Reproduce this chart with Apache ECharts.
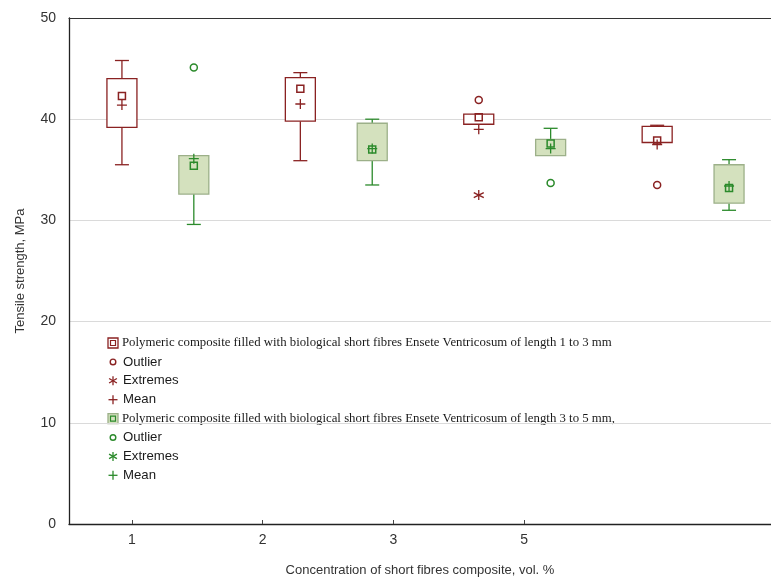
<!DOCTYPE html>
<html><head><meta charset="utf-8">
<script src="https://cdn.jsdelivr.net/npm/echarts@6/dist/echarts.min.js"></script>
<style>html,body{margin:0;padding:0;background:#fff}#chart{width:771px;height:580px}</style>
</head><body><div id="chart"></div>
<script>
// ---- data ----
const categories = ['1', '2', '3', '5'];
const yTicks = [0, 10, 20, 30, 40, 50];

// composite with fibres 1 to 3 mm
const shortLow    = [35.5, 35.9, 39.5, 37.7];
const shortQ1     = [39.2, 39.8, 39.5, 37.7];
const shortMedian = [42.3, 43.0, 40.2, 37.9];
const shortQ3     = [44.0, 44.1, 40.5, 39.3];
const shortHigh   = [45.8, 44.6, 40.5, 39.4];
const shortMean   = [41.4, 41.5, 39.0, 37.5];
const shortOutliers = [[2, 41.9], [3, 33.5]];   // [category index, value]
const shortExtremes = [[2, 32.5]];

// composite with fibres 3 to 5 mm
const longLow    = [29.6, 33.5, 36.4, 31.0];
const longQ1     = [32.6, 35.9, 36.4, 31.7];
const longMedian = [35.4, 37.0, 37.6, 33.2];
const longQ3     = [36.4, 39.6, 38.0, 35.5];
const longHigh   = [36.4, 40.0, 39.1, 36.0];
const longMean   = [36.1, 37.1, 37.1, 33.4];
const longOutliers = [[0, 45.1], [2, 33.7]];
const longExtremes = [];

const legendLabels = [
  'Polymeric composite filled with biological short fibres Ensete Ventricosum of length 1 to 3 mm',
  'Outlier', 'Extremes', 'Mean',
  'Polymeric composite filled with biological short fibres Ensete Ventricosum of length 3 to 5 mm,',
  'Outlier', 'Extremes', 'Mean'
];

// ---- layout constants (positions of box groups along the x scale) ----
const groupStart = 0.923, groupStep = 1.365, pairOffset = 0.55;
const xMin = 0.518, xMax = 5.889;
const RED = '#8a2222', GREEN = '#2b8a2b', GREEN_FILL = '#d4e1be', GREEN_BORDER = '#9cb089';

function xPos(i, s) { return groupStart + i * groupStep + s * pairOffset; }

function boxData(s, lo, q1, q3, hi) {
  return lo.map((v, i) => [xPos(i, s), lo[i], q1[i], q3[i], hi[i]]);
}
function pointData(s, arr) { return arr.map((v, i) => [xPos(i, s), v]); }
function idxData(s, arr) { return arr.map(p => [xPos(p[0], s), p[1]]); }

function boxRenderer(lineColor, fill, border) {
  return function (params, api) {
    const x = api.value(0);
    const lo = api.value(1), q1 = api.value(2), q3 = api.value(3), hi = api.value(4);
    const pLo = api.coord([x, lo]), pQ1 = api.coord([x, q1]), pQ3 = api.coord([x, q3]), pHi = api.coord([x, hi]);
    const cx = pLo[0], bw = 30, cw = 14;
    const ls = { stroke: lineColor, lineWidth: 1.3 };
    const ch = [];
    if (hi - q3 > 0.05) {
      ch.push({ type: 'line', shape: { x1: cx, y1: pHi[1], x2: cx, y2: pQ3[1] }, style: ls });
      ch.push({ type: 'line', shape: { x1: cx - cw / 2, y1: pHi[1], x2: cx + cw / 2, y2: pHi[1] }, style: ls });
    }
    if (q1 - lo > 0.05) {
      ch.push({ type: 'line', shape: { x1: cx, y1: pQ1[1], x2: cx, y2: pLo[1] }, style: ls });
      ch.push({ type: 'line', shape: { x1: cx - cw / 2, y1: pLo[1], x2: cx + cw / 2, y2: pLo[1] }, style: ls });
    }
    ch.push({ type: 'rect', shape: { x: cx - bw / 2, y: pQ3[1], width: bw, height: pQ1[1] - pQ3[1] },
      style: { fill: fill, stroke: border, lineWidth: 1.3 } });
    return { type: 'group', children: ch };
  };
}

const PLUS = 'path://M5,0L5,10M0,5L10,5';
const STAR = 'path://M5,0L5,10M0.7,2.5L9.3,7.5M9.3,2.5L0.7,7.5';

function markerSeries(data, symbol, size, color, bw) {
  return {
    type: 'scatter', data: data, symbol: symbol, symbolSize: size, z: 5,
    itemStyle: { color: 'rgba(0,0,0,0)', borderColor: color, borderWidth: bw, opacity: 1 },
    emphasis: { disabled: true }, silent: true
  };
}

// ---- legend (graphic) ----
const legendX = 113, legendTextX = 122, legendY0 = 343, legendDY = 18.9;
const graphics = [];
legendLabels.forEach((label, k) => {
  const y = legendY0 + k * legendDY;
  const grp = k < 4 ? 0 : 1;
  const col = grp === 0 ? RED : GREEN;
  const kind = k % 4;
  if (kind === 0) {
    graphics.push({ type: 'rect', shape: { x: legendX - 5, y: y - 5, width: 10, height: 10 },
      style: { fill: grp === 0 ? '#fff' : GREEN_FILL, stroke: grp === 0 ? RED : GREEN_BORDER, lineWidth: 1.3 } });
    graphics.push({ type: 'rect', shape: { x: legendX - 2.5, y: y - 2.5, width: 5, height: 5 },
      style: { fill: 'none', stroke: col, lineWidth: 1.2 } });
  } else if (kind === 1) {
    graphics.push({ type: 'circle', shape: { cx: legendX, cy: y, r: 2.8 }, style: { fill: 'none', stroke: col, lineWidth: 1.4 } });
  } else if (kind === 2) {
    const r = 4.5;
    [[0, -r, 0, r], [-r * 0.87, -r * 0.5, r * 0.87, r * 0.5], [r * 0.87, -r * 0.5, -r * 0.87, r * 0.5]].forEach(l => {
      graphics.push({ type: 'line', shape: { x1: legendX + l[0], y1: y + l[1], x2: legendX + l[2], y2: y + l[3] }, style: { stroke: col, lineWidth: 1.3 } });
    });
  } else {
    graphics.push({ type: 'line', shape: { x1: legendX - 4.5, y1: y, x2: legendX + 4.5, y2: y }, style: { stroke: col, lineWidth: 1.3 } });
    graphics.push({ type: 'line', shape: { x1: legendX, y1: y - 4.5, x2: legendX, y2: y + 4.5 }, style: { stroke: col, lineWidth: 1.3 } });
  }
  graphics.push({ type: 'text', x: kind === 0 ? legendTextX : legendTextX + 1, y: y,
    style: { text: label, fill: '#1a1a1a', verticalAlign: 'middle', align: 'left',
      fontFamily: kind === 0 ? '"Liberation Serif", serif' : '"Liberation Sans", Arial, sans-serif',
      fontSize: kind === 0 ? 12.8 : 13.2 } });
});

const chart = echarts.init(document.getElementById('chart'), null, { renderer: 'canvas' });
chart.setOption({
  animation: false,
  backgroundColor: '#fff',
  grid: { left: 69, top: 18, right: 0, bottom: 56, containLabel: false, outerBoundsMode: 'none' },
  xAxis: [{
    type: 'value', min: xMin, max: xMax, position: 'bottom',
    name: 'Concentration of short fibres composite, vol. %', nameLocation: 'middle', nameGap: 40,
    nameTextStyle: { fontFamily: '"Liberation Sans", Arial, sans-serif', fontSize: 13, color: '#333' },
    axisLine: { show: true, onZero: false, lineStyle: { color: '#222', width: 1.3 } },
    axisTick: { show: true, inside: true, length: 4, customValues: [1, 2, 3, 4], lineStyle: { color: '#444' } },
    axisLabel: { customValues: [1, 2, 3, 4], formatter: v => categories[Math.round(v) - 1] || '',
      fontFamily: '"Liberation Sans", Arial, sans-serif', fontSize: 14, color: '#333', margin: 9 },
    splitLine: { show: false }
  }, {
    type: 'value', min: xMin, max: xMax, position: 'top',
    axisLine: { show: true, onZero: false, lineStyle: { color: '#333', width: 1.2 } },
    axisTick: { show: false }, axisLabel: { show: false }, splitLine: { show: false }
  }],
  yAxis: {
    type: 'value', min: 0, max: 50, interval: 10,
    name: 'Tensile strength, MPa', nameLocation: 'middle', nameGap: 42, nameRotate: 90,
    nameTextStyle: { fontFamily: '"Liberation Sans", Arial, sans-serif', fontSize: 13, color: '#333' },
    axisLine: { show: true, onZero: false, lineStyle: { color: '#222', width: 1.3 } },
    axisTick: { show: false },
    axisLabel: { fontFamily: '"Liberation Sans", Arial, sans-serif', fontSize: 14, color: '#333', margin: 13,
      formatter: v => yTicks.indexOf(v) >= 0 ? String(v) : '' },
    splitLine: { show: true, lineStyle: { color: '#dadada', width: 1.2 } }
  },
  graphic: graphics,
  series: [
    { type: 'custom', data: boxData(0, shortLow, shortQ1, shortQ3, shortHigh), encode: { x: 0, y: [1, 2, 3, 4] },
      renderItem: boxRenderer(RED, '#fff', RED), z: 3, silent: true },
    { type: 'custom', data: boxData(1, longLow, longQ1, longQ3, longHigh), encode: { x: 0, y: [1, 2, 3, 4] },
      renderItem: boxRenderer(GREEN, GREEN_FILL, GREEN_BORDER), z: 3, silent: true },
    markerSeries(pointData(0, shortMedian), 'rect', 7, RED, 1.5),
    markerSeries(pointData(1, longMedian), 'rect', 7, GREEN, 1.5),
    markerSeries(pointData(0, shortMean), PLUS, 10, RED, 1.3),
    markerSeries(pointData(1, longMean), PLUS, 10, GREEN, 1.3),
    markerSeries(idxData(0, shortOutliers), 'circle', 7, RED, 1.5),
    markerSeries(idxData(1, longOutliers), 'circle', 7, GREEN, 1.5),
    markerSeries(idxData(0, shortExtremes), STAR, 10, RED, 1.3),
    markerSeries(idxData(1, longExtremes), STAR, 10, GREEN, 1.3)
  ]
});
</script></body></html>
